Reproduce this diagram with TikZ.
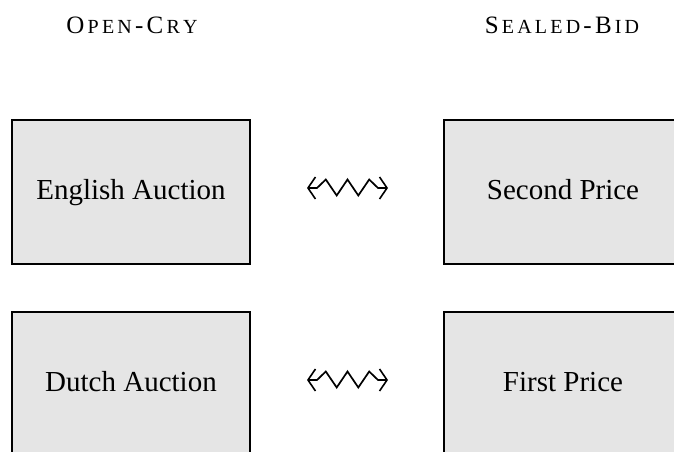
\documentclass[tikz,border=0pt]{standalone}
\usepackage{fontspec}
\usetikzlibrary{arrows.meta}
\setmainfont{Liberation Serif}
\newfontfamily\serifface{Liberation Serif}
\newcommand\capL[1]{{\fontsize{25}{25}\selectfont #1}}
\newcommand\capS[1]{{\fontsize{20}{20}\selectfont #1}}
\newcommand\lsp{\kern3.2pt}
\definecolor{boxgray}{RGB}{229,229,229}
\begin{document}
\begin{tikzpicture}[x=1pt,y=-1pt,
  auctionbox/.style={draw=black,fill=boxgray,line width=1.6pt,rectangle,
    minimum width=238pt,minimum height=144pt,inner sep=0pt,
    font=\serifface\fontsize{29}{29}\selectfont,text height=20pt,text depth=6pt},
  header/.style={anchor=base,inner sep=0pt,font=\serifface},
  squig/.style={line width=1.7pt,line join=miter,
    {Straight Barb[length=7.5pt,width=22pt,line width=1.6pt]}-{Straight Barb[length=7.5pt,width=22pt,line width=1.6pt]}}]
\useasboundingbox (0,0) rectangle (674,452);
\node[header] (oc) at (132,34) {\capL{O}\lsp\capS{P}\lsp\capS{E}\lsp\capS{N}\lsp\capL{-}\lsp\capL{C}\lsp\capS{R}\lsp\capS{Y}};
\node[header] (sb) at (562,34) {\capL{S}\lsp\capS{E}\lsp\capS{A}\lsp\capS{L}\lsp\capS{E}\lsp\capS{D}\lsp\capL{-}\lsp\capL{B}\lsp\capS{I}\lsp\capS{D}};
\node[auctionbox] (ea) at (131,192) {English Auction};
\node[auctionbox] (sp) at (563,192) {Second Price};
\node[auctionbox] (da) at (131,384) {Dutch Auction};
\node[auctionbox] (fp) at (563,384) {First Price};
\coordinate (t1) at (307,188);
\coordinate (t2) at (388,188);
\coordinate (b1) at (307,380);
\coordinate (b2) at (388,380);
\draw[squig] (t1) -- ++(10,0) -- ++(8.8,-8.5) -- ++(10.9,16) -- ++(10.8,-16)
  -- ++(10.8,16) -- ++(10.9,-16) -- ++(8.8,8.5) -- (t2);
\draw[squig] (b1) -- ++(10,0) -- ++(8.8,-8.5) -- ++(10.9,16) -- ++(10.8,-16)
  -- ++(10.8,16) -- ++(10.9,-16) -- ++(8.8,8.5) -- (b2);
\end{tikzpicture}
\end{document}
